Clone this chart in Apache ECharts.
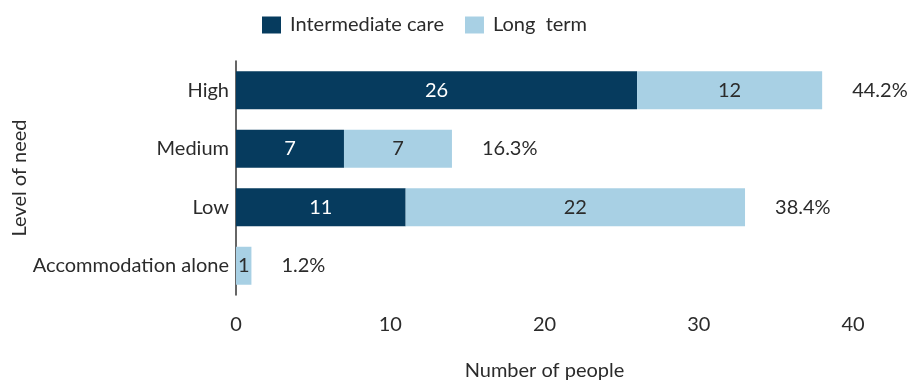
<!DOCTYPE html>
<html><head><meta charset="utf-8">
<script src="https://cdn.jsdelivr.net/npm/echarts@6/dist/echarts.min.js"></script>
<style>html,body{margin:0;padding:0;background:#fff}#c{width:922px;height:382px}</style>
</head><body><div id="c"></div>
<script>
const categories = ['High', 'Medium', 'Low', 'Accommodation alone'];
const intermediate = [26, 7, 11, 0];
const longTerm = [12, 7, 22, 1];
const percents = ['44.2%', '16.3%', '38.4%', '1.2%'];
const xTicks = [0, 10, 20, 30, 40];

const totals = categories.map((c, i) => intermediate[i] + longTerm[i]);
const FONT = 'Lato, "Open Sans", sans-serif';
const FS = 20;
const TXT = '#2b2b2b';
const chart = echarts.init(document.getElementById('c'));
chart.setOption({
  animation: false,
  textStyle: { fontFamily: FONT },
  legend: {
    top: 10, left: 257, itemWidth: 19, itemHeight: 17, itemGap: 21, icon: 'rect',
    textStyle: { fontSize: FS, color: TXT, fontFamily: FONT, padding: [0, 0, 0, 4] },
    data: ['Intermediate care', 'Long  term']
  },
  grid: { left: 236, right: 69, top: 61, bottom: 87, containLabel: false, outerBoundsMode: 'none' },
  xAxis: {
    type: 'value', min: xTicks[0], max: xTicks[xTicks.length - 1], interval: 10,
    axisLine: { show: false }, axisTick: { show: false }, splitLine: { show: false },
    axisLabel: { fontSize: FS, color: TXT, margin: 20, fontFamily: FONT },
    name: 'Number of people', nameLocation: 'middle', nameGap: 66,
    nameTextStyle: { fontSize: FS, color: TXT, fontFamily: FONT }
  },
  yAxis: {
    type: 'category', data: categories, inverse: true,
    axisLine: { show: true, lineStyle: { color: '#333', width: 1.5 } },
    axisTick: { show: false },
    axisLabel: { fontSize: FS, color: TXT, margin: 7, fontFamily: FONT },
    name: 'Level of need', nameLocation: 'middle', nameGap: 206, nameRotate: 90,
    nameMoveOverlap: false,
    nameTextStyle: { fontSize: FS, color: TXT, fontFamily: FONT }
  },
  series: [
    {
      name: 'Intermediate care', type: 'bar', stack: 'a', barWidth: 38,
      data: intermediate, itemStyle: { color: '#063b5e' },
      label: { show: true, position: 'inside', color: '#fff', fontSize: FS, fontFamily: FONT,
        formatter: p => p.value ? String(p.value) : '' }
    },
    {
      name: 'Long  term', type: 'bar', stack: 'a', barWidth: 38,
      data: longTerm, itemStyle: { color: '#a8d0e4' },
      label: { show: true, position: 'inside', color: TXT, fontSize: FS, fontFamily: FONT,
        formatter: p => p.value ? String(p.value) : '' }
    },
    {
      name: 'pct', type: 'scatter', symbolSize: 0, silent: true,
      itemStyle: { opacity: 1 },
      data: totals.map((t, i) => [t, categories[i]]),
      label: { show: true, position: 'right', distance: 30, color: TXT, fontSize: FS, fontFamily: FONT,
        formatter: p => percents[p.dataIndex] }
    }
  ]
});
</script></body></html>
